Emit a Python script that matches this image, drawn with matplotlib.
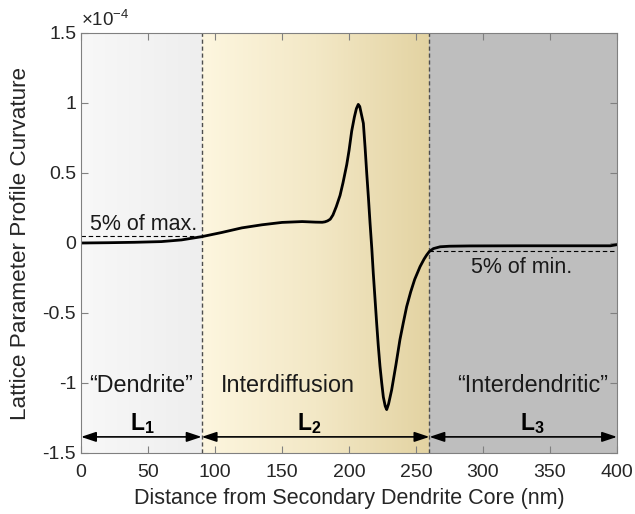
import numpy as np
import matplotlib
matplotlib.use("Agg")
import matplotlib.pyplot as plt
from matplotlib.colors import LinearSegmentedColormap

plt.rcParams['font.family'] = ['Liberation Sans', 'DejaVu Sans']
plt.rcParams['mathtext.fontset'] = 'custom'
plt.rcParams['mathtext.rm'] = 'Liberation Sans'
plt.rcParams['mathtext.bf'] = 'Liberation Sans:bold'

# data (x in nm, curvature in units of 1e-4)
x_nm = [0, 20, 40, 60, 75, 90, 105, 120, 135, 150, 165, 175, 180, 182, 184, 186,
        188, 190.5, 193.3, 195.5, 198.3, 200, 202, 204, 205.5, 206.9, 208, 209,
        210.7, 212, 213.2, 214.5, 215.7, 217, 218.1, 219.4, 220.6, 221.8, 223.1,
        224.4, 225.6, 227, 228.1, 229.5, 231.8, 235, 238, 240.5, 243, 246, 249,
        253, 256, 258, 260, 263, 268, 275, 290, 330, 370, 395, 400]
curv = [0.0, 0.002, 0.005, 0.01, 0.022, 0.045, 0.075, 0.108, 0.13, 0.147, 0.153,
        0.149, 0.148, 0.151, 0.158, 0.17, 0.20, 0.26, 0.34, 0.43, 0.56, 0.66, 0.80,
        0.90, 0.96, 0.99, 0.975, 0.93, 0.855, 0.68, 0.50, 0.32, 0.14, -0.04,
        -0.216, -0.40, -0.57, -0.73, -0.88, -1.00, -1.10, -1.165, -1.19, -1.15,
        -1.05, -0.87, -0.69, -0.57, -0.455, -0.35, -0.26, -0.169, -0.115, -0.085,
        -0.06, -0.04, -0.027, -0.023, -0.021, -0.02, -0.02, -0.02, -0.012]

bounds = [0, 90, 260, 400]
max5 = 0.05
min5 = -0.055
region_names = ['\u201cDendrite\u201d', 'Interdiffusion', '\u201cInterdendritic\u201d']
region_text_x = [45, 154, 337]
L_labels = [r'$\mathbf{L_1}$', r'$\mathbf{L_2}$', r'$\mathbf{L_3}$']
L_text_x = [46, 170, 337]
xticks = [0, 50, 100, 150, 200, 250, 300, 350, 400]
yticks = [-1.5, -1, -0.5, 0, 0.5, 1, 1.5]
yticklabels = ['-1.5', '-1', '-0.5', '0', '0.5', '1', '1.5']

fig = plt.figure(figsize=(6.35, 5.14), dpi=100)
ax = fig.add_axes([0.1276, 0.1187, 0.8441, 0.8171])
ax.set_xlim(0, 400)
ax.set_ylim(-1.5, 1.5)

# backgrounds
grad = np.linspace(0, 1, 256).reshape(1, -1)
cm1 = LinearSegmentedColormap.from_list('r1', ['#f8f8f8', '#eeeeee'])
cm2 = LinearSegmentedColormap.from_list('r2', ['#fdf6df', '#f3e8c6', '#e3d3a2'])
ax.imshow(grad, cmap=cm1, extent=[bounds[0], bounds[1], -1.5, 1.5], aspect='auto', zorder=0)
ax.imshow(grad, cmap=cm2, extent=[bounds[1], bounds[2], -1.5, 1.5], aspect='auto', zorder=0)
ax.axvspan(bounds[2], bounds[3], color='#bebebe', zorder=0, lw=0)

for b in bounds[1:3]:
    ax.axvline(b, color='#4d4d4d', ls=(0, (3, 2)), lw=1.0, zorder=2)

ax.plot([bounds[0], bounds[1]], [max5, max5], color='black', ls=(0, (4, 2.5)), lw=0.8, zorder=2)
ax.plot([bounds[2], bounds[3]], [min5, min5], color='black', ls=(0, (4, 2.5)), lw=0.8, zorder=2)

ax.plot(x_nm, curv, color='black', lw=2.0, zorder=3, solid_joinstyle='round')

ax.text(7, 0.09, '5% of max.', fontsize=15.5, color='#1a1a1a', ha='left', va='baseline')
ax.text(329, -0.1, '5% of min.', fontsize=15.5, color='#1a1a1a', ha='center', va='top')

for name, tx in zip(region_names, region_text_x):
    ax.text(tx, -1.02, name, fontsize=16.8, color='#1a1a1a', ha='center', va='center')

for lab, tx in zip(L_labels, L_text_x):
    ax.text(tx, -1.29, lab, fontsize=16.5, color='black', ha='center', va='center')

for i in range(3):
    ax.annotate('', xy=(bounds[i], -1.385), xytext=(bounds[i + 1], -1.385),
                arrowprops=dict(arrowstyle='<|-|>,head_length=0.9,head_width=0.3',
                                color='black', lw=1.2, shrinkA=0, shrinkB=0),
                zorder=4)

ax.set_xticks(xticks)
ax.set_yticks(yticks)
ax.set_yticklabels(yticklabels)
ax.tick_params(direction='in', top=True, right=True, labelsize=14, colors='#808080',
               labelcolor='#262626', length=5, width=0.8)
ax.tick_params(axis='x', pad=8)
for s in ax.spines.values():
    s.set_color('#808080')
    s.set_linewidth(0.8)
    s.set_zorder(5)

ax.set_xlabel('Distance from Secondary Dendrite Core (nm)', fontsize=15.5, color='#262626', labelpad=5)
ax.set_ylabel('Lattice Parameter Profile Curvature', fontsize=16.2, color='#262626', labelpad=8)
ax.text(0, 1.52, r'$\times 10^{-4}$', fontsize=13.5, color='#262626', ha='left', va='bottom',
        transform=ax.transData)

fig.savefig('out.png', dpi=100)
